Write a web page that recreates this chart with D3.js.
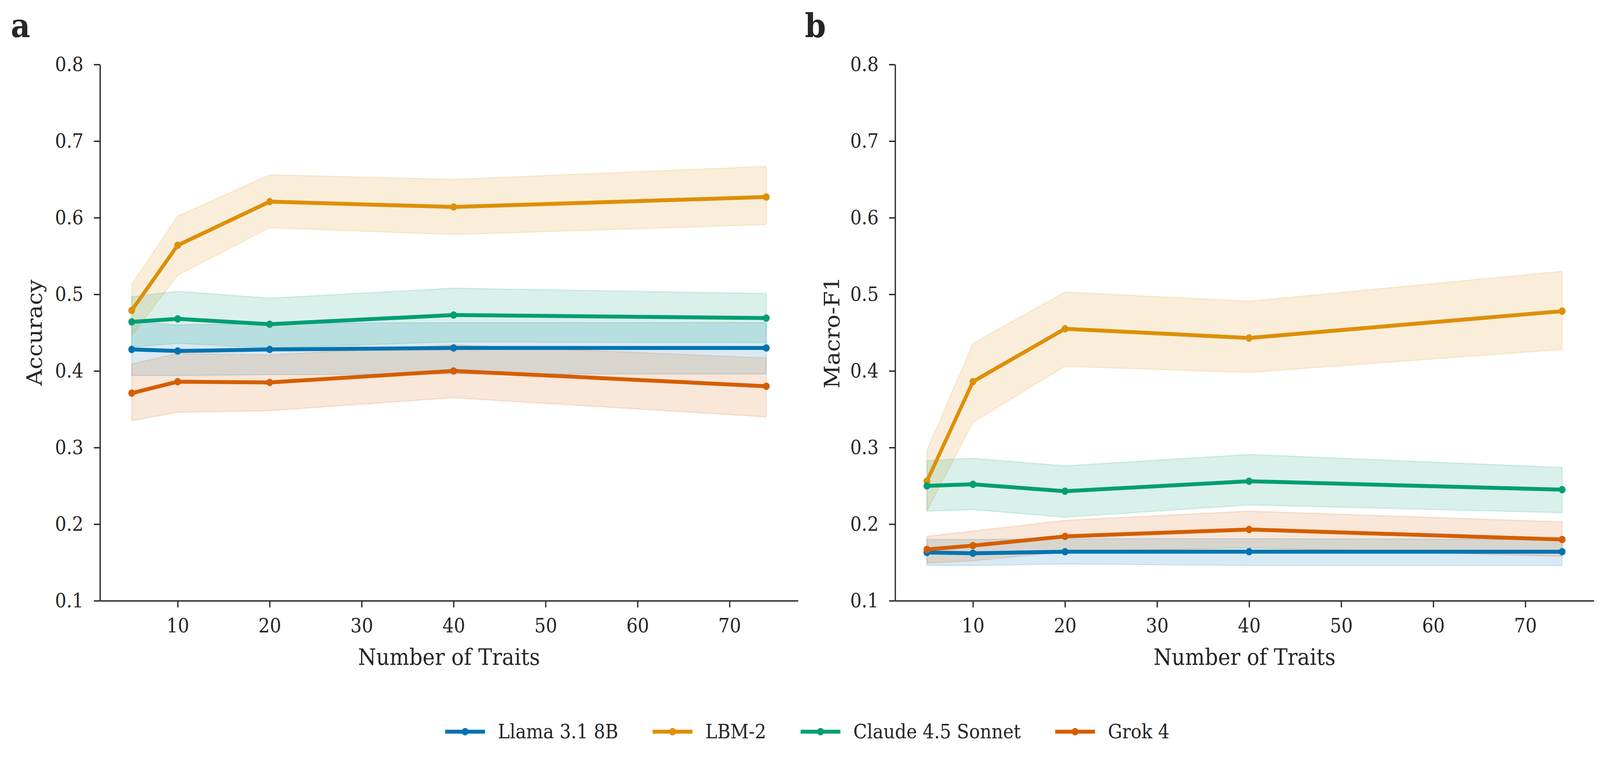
<!DOCTYPE html>
<html>
<head>
<meta charset="utf-8">
<script src="https://cdn.jsdelivr.net/npm/d3@7"></script>
<style>
  html, body { margin: 0; padding: 0; background: #fff; width: 100%; height: 100%; overflow: hidden; }
  #root { width: 100vw; height: 100vh; }
  svg { display: block; }
  text { font-family: 'DejaVu Serif', serif; fill: #262626; }
</style>
</head>
<body>
<div id="root"></div>
<script>
const traits = [5, 10, 20, 40, 74];
const models = ['Llama 3.1 8B', 'LBM-2', 'Claude 4.5 Sonnet', 'Grok 4'];
const colors = ['#0173b2', '#de8f05', '#029e73', '#d55e00'];

// accuracy: mean, lower, upper for each model
const accMean = [
  [0.428, 0.426, 0.428, 0.430, 0.430],
  [0.479, 0.564, 0.621, 0.614, 0.627],
  [0.464, 0.468, 0.461, 0.473, 0.469],
  [0.371, 0.386, 0.385, 0.400, 0.380]
];
const accLow = [
  [0.394, 0.394, 0.395, 0.396, 0.396],
  [0.446, 0.525, 0.587, 0.578, 0.591],
  [0.431, 0.436, 0.430, 0.438, 0.437],
  [0.335, 0.346, 0.348, 0.365, 0.340]
];
const accHigh = [
  [0.464, 0.460, 0.462, 0.463, 0.463],
  [0.513, 0.602, 0.656, 0.650, 0.667],
  [0.497, 0.504, 0.495, 0.508, 0.501],
  [0.409, 0.423, 0.421, 0.434, 0.417]
];

// macro-F1: mean, lower, upper for each model
const f1Mean = [
  [0.163, 0.162, 0.164, 0.164, 0.164],
  [0.256, 0.386, 0.455, 0.443, 0.478],
  [0.250, 0.252, 0.243, 0.256, 0.245],
  [0.167, 0.172, 0.184, 0.193, 0.180]
];
const f1Low = [
  [0.146, 0.146, 0.148, 0.146, 0.146],
  [0.217, 0.333, 0.406, 0.398, 0.428],
  [0.217, 0.219, 0.209, 0.225, 0.215],
  [0.149, 0.152, 0.164, 0.169, 0.158]
];
const f1High = [
  [0.180, 0.180, 0.181, 0.181, 0.180],
  [0.296, 0.436, 0.503, 0.491, 0.530],
  [0.283, 0.286, 0.276, 0.291, 0.274],
  [0.184, 0.191, 0.205, 0.217, 0.203]
];

const xTicks = [10, 20, 30, 40, 50, 60, 70];
const yTicks = [0.1, 0.2, 0.3, 0.4, 0.5, 0.6, 0.7, 0.8];

const svgWidth = 4465;
const svgHeight = 1947;
const plotTop = 165;
const plotBottom = 1537;

// drawn in a fixed 4465x1947 coordinate space, scaled to the window
const svg = d3.select('#root').append('svg')
  .attr('width', '100%')
  .attr('height', '100%')
  .attr('viewBox', `0 0 ${svgWidth} ${svgHeight}`)
  .attr('preserveAspectRatio', 'none');

const panels = [
  { letter: 'a', label: 'Accuracy', left: 279, right: 2227, letterX: 30, labelX: 117, mean: accMean, low: accLow, high: accHigh },
  { letter: 'b', label: 'Macro-F1', left: 2498, right: 4448, letterX: 2246, labelX: 2343, mean: f1Mean, low: f1Low, high: f1High }
];

panels.forEach(p => {
  const xScale = d3.scaleLinear().domain([1.55, 77.45]).range([p.left, p.right]);
  const yScale = d3.scaleLinear().domain([0.1, 0.8]).range([plotBottom, plotTop]);

  const g = svg.append('g');

  const area = d3.area()
    .x((d, i) => xScale(traits[i]))
    .y0(d => yScale(d[0]))
    .y1(d => yScale(d[1]));

  const line = d3.line()
    .x((d, i) => xScale(traits[i]))
    .y(d => yScale(d));

  models.forEach((m, k) => {
    const band = traits.map((t, i) => [p.low[k][i], p.high[k][i]]);
    g.append('path')
      .attr('d', area(band))
      .attr('fill', colors[k])
      .attr('fill-opacity', 0.15)
      .attr('stroke', colors[k])
      .attr('stroke-opacity', 0.15)
      .attr('stroke-width', 3);
  });

  models.forEach((m, k) => {
    g.append('path')
      .attr('d', line(p.mean[k]))
      .attr('fill', 'none')
      .attr('stroke', colors[k])
      .attr('stroke-width', 10)
      .attr('stroke-linejoin', 'round')
      .attr('stroke-linecap', 'round');

    g.selectAll(null)
      .data(p.mean[k])
      .enter()
      .append('circle')
      .attr('cx', (d, i) => xScale(traits[i]))
      .attr('cy', d => yScale(d))
      .attr('r', 9.5)
      .attr('fill', colors[k]);
  });

  const xAxis = g.append('g')
    .attr('transform', `translate(0, ${plotBottom})`)
    .call(d3.axisBottom(xScale).tickValues(xTicks).tickSize(17).tickSizeOuter(0).tickPadding(29));

  const yAxis = g.append('g')
    .attr('transform', `translate(${p.left}, 0)`)
    .call(d3.axisLeft(yScale).tickValues(yTicks).tickFormat(d3.format('.1f')).tickSize(17).tickSizeOuter(0).tickPadding(29));

  [xAxis, yAxis].forEach(ax => {
    ax.select('.domain').attr('stroke', '#262626').attr('stroke-width', 3.5);
    ax.selectAll('.tick line').attr('stroke', '#262626').attr('stroke-width', 3.5);
    ax.selectAll('.tick text')
      .attr('font-family', "'DejaVu Serif', serif")
      .attr('font-size', 50)
      .attr('fill', '#262626');
  });

  g.append('text')
    .attr('x', (p.left + p.right) / 2)
    .attr('y', 1701)
    .attr('text-anchor', 'middle')
    .attr('font-size', 58)
    .text('Number of Traits');

  g.append('text')
    .attr('transform', `translate(${p.labelX}, ${(plotTop + plotBottom) / 2}) rotate(-90)`)
    .attr('text-anchor', 'middle')
    .attr('font-size', 58)
    .text(p.label);

  g.append('text')
    .attr('x', p.letterX)
    .attr('y', 95)
    .attr('font-size', 84)
    .attr('font-weight', 'bold')
    .text(p.letter);
});

// legend
const legend = svg.append('g');
const legendY = 1872;
const handleLen = 111;
const textPad = 36;
const colGap = 96;

const items = legend.selectAll('g')
  .data(models)
  .enter()
  .append('g');

items.append('line')
  .attr('x1', 0)
  .attr('x2', handleLen)
  .attr('y1', legendY)
  .attr('y2', legendY)
  .attr('stroke', (d, i) => colors[i])
  .attr('stroke-width', 10);

items.append('circle')
  .attr('cx', handleLen / 2)
  .attr('cy', legendY)
  .attr('r', 9.5)
  .attr('fill', (d, i) => colors[i]);

items.append('text')
  .attr('x', handleLen + textPad)
  .attr('y', legendY + 17)
  .attr('font-size', 50)
  .text(d => d);

let cursor = 0;
const offsets = [];
items.each(function() {
  const w = d3.select(this).select('text').node().getComputedTextLength();
  offsets.push(cursor);
  cursor += handleLen + textPad + w + colGap;
});
const totalWidth = cursor - colGap;
const startX = 2253 - totalWidth / 2;
items.attr('transform', (d, i) => `translate(${startX + offsets[i]}, 0)`);
</script>
</body>
</html>
